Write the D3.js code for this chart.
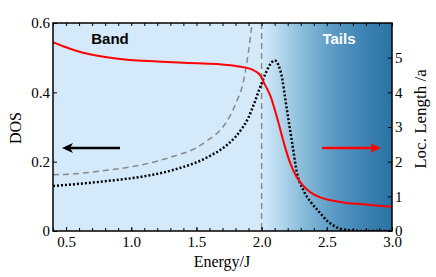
<!DOCTYPE html>
<html>
<head>
<meta charset="utf-8">
<script src="https://cdn.jsdelivr.net/npm/d3@7"></script>
<style>
  body { margin: 0; background: #fff; }
  .lbl { font-family: "Liberation Serif", "Times New Roman", serif; font-size: 16px; fill: #000; }
</style>
</head>
<body>
<svg id="chart" width="436" height="277"></svg>
<script>
// localization length (right axis, red)
var locE = [0.4, 0.5, 0.63, 0.8, 0.99, 1.2, 1.36, 1.5, 1.68, 1.84, 1.92, 1.99, 2.02, 2.07, 2.12, 2.17, 2.22, 2.27, 2.32, 2.38, 2.45, 2.55, 2.65, 2.78, 2.9, 3.0];
var locL = [5.45, 5.3, 5.14, 5.02, 4.93, 4.89, 4.86, 4.84, 4.81, 4.74, 4.67, 4.49, 4.26, 3.87, 3.25, 2.55, 1.95, 1.55, 1.3, 1.1, 0.97, 0.87, 0.81, 0.77, 0.73, 0.70];

// DOS from numerics (left axis, black dotted)
var dosE = [0.4, 0.6, 0.81, 1.07, 1.32, 1.58, 1.74, 1.80, 1.85, 1.90, 1.94, 1.99, 2.03, 2.07, 2.10, 2.13, 2.16, 2.18, 2.21, 2.24, 2.27, 2.32, 2.38, 2.43, 2.51, 2.58, 2.66, 2.8, 3.0];
var dosV = [0.130, 0.136, 0.144, 0.156, 0.176, 0.212, 0.250, 0.272, 0.296, 0.328, 0.365, 0.416, 0.454, 0.483, 0.492, 0.478, 0.435, 0.385, 0.311, 0.24, 0.17, 0.118, 0.082, 0.060, 0.027, 0.010, 0.003, 0, 0];

// clean band DOS (left axis, gray dashed)
var cleanE = [0.4, 0.6, 0.81, 1.07, 1.32, 1.5, 1.58, 1.68, 1.74, 1.81, 1.86, 1.90, 1.93];
var cleanV = [0.162, 0.166, 0.175, 0.19, 0.215, 0.24, 0.26, 0.29, 0.32, 0.375, 0.43, 0.52, 0.61];

var bandEdge = 2.0;
var xTicks = [0.5, 1.0, 1.5, 2.0, 2.5, 3.0];
var leftTicks = [0, 0.2, 0.4, 0.6];
var rightTicks = [0, 1, 2, 3, 4, 5];

var svg = d3.select("#chart");
var mLeft = 53, mRight = 392, mTop = 23, mBottom = 231;
var serif = "Liberation Serif, Times New Roman, serif";

var x = d3.scaleLinear().domain([0.4, 3.0]).range([mLeft, mRight]);
var yL = d3.scaleLinear().domain([0, 0.6]).range([mBottom, mTop]);
var yR = d3.scaleLinear().domain([0, 6]).range([mBottom, mTop]);

var defs = svg.append("defs");
defs.append("clipPath").attr("id", "clip")
    .append("rect").attr("x", mLeft).attr("y", mTop).attr("width", mRight - mLeft).attr("height", mBottom - mTop);

var grad = defs.append("linearGradient").attr("id", "tails")
    .attr("gradientUnits", "userSpaceOnUse")
    .attr("x1", x(bandEdge)).attr("x2", x(3.0)).attr("y1", 0).attr("y2", 0);
[[0, "#d4eafa"], [0.12, "#b9daef"], [0.3, "#8cbedc"], [0.55, "#5a9ac4"], [0.8, "#3b82b2"], [1, "#2a73a4"]]
    .forEach(function(s) { grad.append("stop").attr("offset", s[0]).attr("stop-color", s[1]); });

// background
svg.append("rect").attr("x", mLeft).attr("y", mTop).attr("width", x(bandEdge) - mLeft).attr("height", mBottom - mTop)
    .attr("fill", "#d4eafa");
svg.append("rect").attr("x", x(bandEdge)).attr("y", mTop).attr("width", mRight - x(bandEdge)).attr("height", mBottom - mTop)
    .attr("fill", "url(#tails)");

var plot = svg.append("g").attr("clip-path", "url(#clip)");

// band edge
plot.append("line")
    .attr("x1", x(bandEdge)).attr("x2", x(bandEdge)).attr("y1", mTop).attr("y2", mBottom)
    .attr("stroke", "#8a8a8a").attr("stroke-width", 1.5).attr("stroke-dasharray", "6,4");

function pts(xs, ys) { return xs.map(function(d, i) { return [d, ys[i]]; }); }

var lineL = d3.line().x(function(d) { return x(d[0]); }).y(function(d) { return yL(d[1]); }).curve(d3.curveMonotoneX);
var lineR = d3.line().x(function(d) { return x(d[0]); }).y(function(d) { return yR(d[1]); }).curve(d3.curveMonotoneX);

plot.append("path").datum(pts(cleanE, cleanV)).attr("d", lineL)
    .attr("fill", "none").attr("stroke", "#888").attr("stroke-width", 1.5).attr("stroke-dasharray", "6,4");

plot.append("path").datum(pts(dosE, dosV)).attr("d", lineL)
    .attr("fill", "none").attr("stroke", "#000").attr("stroke-width", 2.5).attr("stroke-dasharray", "2,2");

plot.append("path").datum(pts(locE, locL)).attr("d", lineR)
    .attr("fill", "none").attr("stroke", "#f00").attr("stroke-width", 2);

// arrows
function arrow(x1, x2, y, color) {
    var dir = x2 > x1 ? 1 : -1;
    svg.append("line").attr("x1", x1).attr("x2", x2 - dir * 8).attr("y1", y).attr("y2", y)
        .attr("stroke", color).attr("stroke-width", 2.5);
    svg.append("path")
        .attr("d", "M" + x2 + "," + y + " L" + (x2 - dir * 11) + "," + (y - 5) + " L" + (x2 - dir * 8) + "," + y + " L" + (x2 - dir * 11) + "," + (y + 5) + " Z")
        .attr("fill", color);
}
arrow(120, 62, 148, "#000");
arrow(322, 381, 148, "#f00");

// region labels
svg.append("text").attr("x", 110).attr("y", 44).attr("text-anchor", "middle")
    .attr("font-family", "Liberation Sans, Arial, sans-serif").attr("font-weight", "bold").attr("font-size", 15)
    .attr("fill", "#000").text("Band");
svg.append("text").attr("x", 339).attr("y", 44).attr("text-anchor", "middle")
    .attr("font-family", "Liberation Sans, Arial, sans-serif").attr("font-weight", "bold").attr("font-size", 15)
    .attr("fill", "#fff").text("Tails");

// axes
function styleAxis(g) {
    g.attr("font-family", serif).attr("font-size", 15);
    g.select(".domain").remove();
    g.selectAll(".tick line").attr("stroke", "#000").attr("stroke-width", 1);
    g.selectAll(".tick text").attr("fill", "#000");
}
var minor = d3.range(0.4, 3.001, 0.1);
svg.append("g").attr("transform", "translate(0," + mBottom + ")")
    .call(d3.axisBottom(x).tickValues(minor).tickSize(-3).tickFormat(""))
    .call(styleAxis);
svg.append("g").attr("transform", "translate(0," + mTop + ")")
    .call(d3.axisTop(x).tickValues(minor).tickSize(-3).tickFormat(""))
    .call(styleAxis);
svg.append("g").attr("transform", "translate(0," + mBottom + ")")
    .call(d3.axisBottom(x).tickValues(xTicks).tickSize(-4).tickPadding(5).tickFormat(d3.format(".1f")))
    .call(styleAxis);

svg.append("g").attr("transform", "translate(" + mLeft + ",0)")
    .call(d3.axisLeft(yL).tickValues(leftTicks).tickSize(-4).tickPadding(3).tickFormat(function(d) { return d === 0 ? "0" : d3.format(".1f")(d); }))
    .call(styleAxis);

svg.append("g").attr("transform", "translate(" + mRight + ",0)")
    .call(d3.axisRight(yR).tickValues(rightTicks).tickSize(-4).tickPadding(3).tickFormat(d3.format("d")))
    .call(styleAxis);

// frame
svg.append("rect").attr("x", mLeft).attr("y", mTop).attr("width", mRight - mLeft).attr("height", mBottom - mTop)
    .attr("fill", "none").attr("stroke", "#000").attr("stroke-width", 1.5);

// axis titles
svg.append("text").attr("class", "lbl").attr("x", 222).attr("y", 267).attr("text-anchor", "middle").text("Energy/J");
svg.append("text").attr("class", "lbl").attr("transform", "translate(21,128) rotate(-90)")
    .attr("text-anchor", "middle").text("DOS");
svg.append("text").attr("class", "lbl").attr("transform", "translate(426,119) rotate(-90)")
    .attr("text-anchor", "middle").style("font-size", "17px").text("Loc. Length /a");
</script>
</body>
</html>
